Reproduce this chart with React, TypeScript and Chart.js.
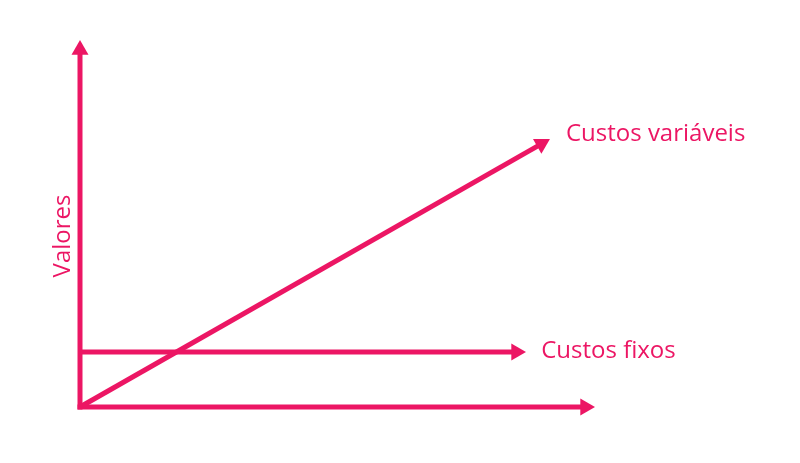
import { useEffect, useRef } from 'react';
import { Chart, registerables } from 'chart.js';

Chart.register(...registerables);

const COLOR = '#EC1664';
const FONT = '24px "Open Sans", "Noto Sans", sans-serif';

// Schematic data (arbitrary units, 0..100)
const seriesLabels = ['Valores', 'Quantidade', 'Custos fixos', 'Custos variáveis'];
const yAxisLine = [{ x: 0, y: 0 }, { x: 0, y: 97.3 }];
const xAxisLine = [{ x: 0, y: 0 }, { x: 98.1, y: 0 }];
const fixedCosts = [{ x: 0, y: 15 }, { x: 84.7, y: 15 }];
const variableCosts = [{ x: 0, y: 0 }, { x: 89.6, y: 71.7 }];
const axisTitle = 'Valores';

const ARROW_R = 9.8;

const rotationFor = (ctx: any) => {
  const ds = ctx.chart.data.datasets[ctx.datasetIndex].data as any[];
  const i = ctx.dataIndex;
  if (i === 0) return 0;
  const sx = ctx.chart.scales.x;
  const sy = ctx.chart.scales.y;
  const x0 = sx.getPixelForValue(ds[i - 1].x);
  const y0 = sy.getPixelForValue(ds[i - 1].y);
  const x1 = sx.getPixelForValue(ds[i].x);
  const y1 = sy.getPixelForValue(ds[i].y);
  const ang = Math.atan2(x1 - x0, -(y1 - y0));
  return (ang * 180) / Math.PI;
};

const labelPlugin = {
  id: 'endLabels',
  afterDatasetsDraw(chart: any) {
    const { ctx } = chart;
    ctx.save();
    ctx.fillStyle = COLOR;
    ctx.font = FONT;
    ctx.textAlign = 'left';
    ctx.textBaseline = 'alphabetic';
    const varEnd = chart.getDatasetMeta(3).data[1];
    ctx.fillText(seriesLabels[3], varEnd.x + 24.5, varEnd.y - 3);
    const fixEnd = chart.getDatasetMeta(2).data[1];
    ctx.fillText(seriesLabels[2], fixEnd.x + 25, fixEnd.y + 6);
    const yStart = chart.getDatasetMeta(0).data[0];
    ctx.translate(yStart.x - 10, 236);
    ctx.rotate(-Math.PI / 2);
    ctx.textAlign = 'center';
    ctx.fillText(axisTitle, 0, 0);
    ctx.restore();
  },
};

const makeDs = (label: string, data: any[], cap: string) => ({
  label,
  data,
  showLine: true,
  borderColor: COLOR,
  backgroundColor: COLOR,
  borderWidth: 5,
  borderCapStyle: cap,
  pointStyle: 'triangle',
  pointRadius: (c: any) => (c.dataIndex === 1 ? ARROW_R : 0),
  pointHoverRadius: (c: any) => (c.dataIndex === 1 ? ARROW_R : 0),
  pointBorderWidth: 0,
  pointBackgroundColor: COLOR,
  pointRotation: rotationFor,
  clip: false,
  tension: 0,
});

export default function App() {
  const ref = useRef<HTMLCanvasElement>(null);
  useEffect(() => {
    if (!ref.current) return;
    const chart = new Chart(ref.current, {
      type: 'scatter',
      data: {
        datasets: [
          makeDs(seriesLabels[0], yAxisLine, 'square'),
          makeDs(seriesLabels[1], xAxisLine, 'square'),
          makeDs(seriesLabels[2], fixedCosts, 'butt'),
          makeDs(seriesLabels[3], variableCosts, 'butt'),
        ] as any,
      },
      options: {
        animation: false,
        responsive: true,
        maintainAspectRatio: false,
        layout: { padding: { left: 80, right: 205, top: 40, bottom: 56 } },
        plugins: { legend: { display: false }, tooltip: { enabled: false } },
        scales: {
          x: { type: 'linear', min: 0, max: 100, display: false },
          y: { type: 'linear', min: 0, max: 100, display: false },
        },
      },
      plugins: [labelPlugin],
    });
    return () => chart.destroy();
  }, []);
  return (
    <div style={{ position: 'fixed', left: 0, top: 0, width: 800, height: 463, background: '#fff' }}>
      <canvas ref={ref} />
    </div>
  );
}
